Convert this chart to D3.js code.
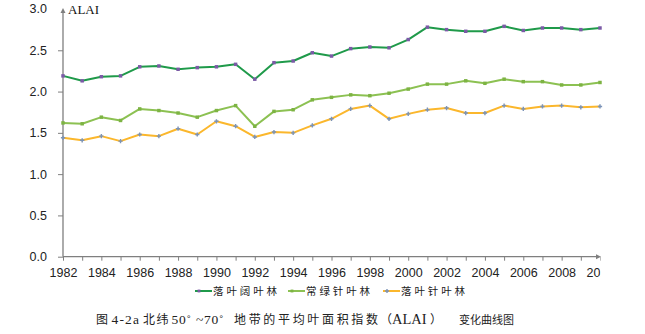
<!DOCTYPE html>
<html><head><meta charset="utf-8">
<script src="https://cdn.jsdelivr.net/npm/d3@7"></script>
<style>
body{margin:0;background:#fff;}
svg{display:block;}
</style></head>
<body>
<svg id="c" width="645" height="334"></svg>
<script>
const years = d3.range(1982, 2011);
const seriesNames = ["落叶阔叶林", "常绿针叶林", "落叶针叶林"];
const broadleaf = [2.19,2.13,2.18,2.19,2.30,2.31,2.27,2.29,2.30,2.33,2.15,2.35,2.37,2.47,2.43,2.52,2.54,2.53,2.63,2.78,2.75,2.73,2.73,2.79,2.74,2.77,2.77,2.75,2.77];
const evergreen = [1.62,1.61,1.69,1.65,1.79,1.77,1.74,1.69,1.77,1.83,1.58,1.76,1.78,1.90,1.93,1.96,1.95,1.98,2.03,2.09,2.09,2.13,2.10,2.15,2.12,2.12,2.08,2.08,2.11];
const deciduousConifer = [1.44,1.41,1.46,1.40,1.48,1.46,1.55,1.48,1.64,1.58,1.45,1.51,1.50,1.59,1.67,1.79,1.83,1.67,1.73,1.78,1.80,1.74,1.74,1.83,1.79,1.82,1.83,1.81,1.82];
const yTicks = [0.0,0.5,1.0,1.5,2.0,2.5,3.0];
const xTicks = d3.range(1982, 2011);
const xLabels = d3.range(1982, 2011, 2);
const yTitle = "ALAI";
const captionParts = ["图", "4-2a", "北纬", "50˚ ~70˚", "地带的平均叶面积指数", "（", "ALAI", "）", "变化曲线图"];

const lineColors = ["#1f9a4a", "#8cc152", "#fbb72c"];
const markerColors = ["#7b5aa6", "#7db343", "#7b93b8"];
const markerShapes = [d3.symbolSquare, d3.symbolSquare, d3.symbolCross];

const svg = d3.select("#c");
const x = d3.scaleLinear().domain([1982, 2010]).range([63, 600]);
const y = d3.scaleLinear().domain([0, 3]).range([256.7, 9]);

svg.append("defs").append("clipPath").attr("id","clipX")
  .append("rect").attr("x",0).attr("y",0).attr("width",600.5).attr("height",334);

const axisColor = "#7f7f7f";

// Y axis
const yAxis = svg.append("g").attr("transform","translate(63,0)")
  .call(d3.axisLeft(y).tickValues(yTicks.slice(0,6)).tickSize(5).tickFormat(d3.format(".1f")).tickSizeOuter(0));
yAxis.select(".domain").remove();
yAxis.selectAll(".tick line").attr("stroke",axisColor);
yAxis.selectAll(".tick text").attr("x",-16).attr("fill","#222")
  .style("font-family","'Liberation Sans', Arial, sans-serif").style("font-size","12.5px");
svg.append("text").attr("x",47).attr("y",y(3)).attr("dy","0.32em").attr("text-anchor","end")
  .attr("fill","#222").style("font-family","'Liberation Sans', Arial, sans-serif").style("font-size","12.5px")
  .text(d3.format(".1f")(yTicks[6]));
svg.append("line").attr("x1",63).attr("x2",63).attr("y1",y(0)).attr("y2",y(3)+2).attr("stroke",axisColor).attr("stroke-width",1.3);
svg.append("path").attr("d",`M${63-2.5},${y(3)+4} L63,${y(3)-1} L${63+2.5},${y(3)+4} Z`).attr("fill",axisColor);
svg.append("text").attr("x",68).attr("y",y(3)).attr("dy","0.35em")
  .style("font-family","'Liberation Serif', 'Times New Roman', serif").style("font-size","13px").attr("fill","#111").text(yTitle);

// X axis
const xAxisG = svg.append("g").attr("clip-path","url(#clipX)");
const xAxis = xAxisG.append("g").attr("transform",`translate(0,${y(0)})`)
  .call(d3.axisBottom(x).tickValues(xTicks).tickSize(4).tickFormat(d => xLabels.includes(d) ? String(d) : "").tickSizeOuter(0));
xAxis.select(".domain").remove();
xAxis.selectAll(".tick line").attr("stroke",axisColor);
xAxis.selectAll(".tick text").attr("y",11).attr("fill","#222")
  .style("font-family","'Liberation Sans', Arial, sans-serif").style("font-size","12.5px");
svg.append("line").attr("x1",63).attr("x2",598).attr("y1",y(0)).attr("y2",y(0)).attr("stroke",axisColor).attr("stroke-width",1.3);
svg.append("path").attr("d",`M596,${y(0)-2.5} L601,${y(0)} L596,${y(0)+2.5} Z`).attr("fill",axisColor);

// Lines
const allSeries = [broadleaf, evergreen, deciduousConifer];
const line = d3.line().x((d,i)=>x(years[i])).y(d=>y(d));
allSeries.forEach((s, k) => {
  svg.append("path").datum(s).attr("d", line).attr("fill","none")
    .attr("stroke", lineColors[k]).attr("stroke-width", 2).attr("stroke-linejoin","round");
  const sym = k===2 ? d3.symbol().type(d3.symbolCross).size(10) : d3.symbol().type(markerShapes[k]).size(12);
  svg.append("g").selectAll("path").data(s).join("path")
    .attr("transform",(d,i)=>`translate(${x(years[i])},${y(d)})`)
    .attr("d", sym())
    .attr("fill", markerColors[k]);
});

// Legend
const legendX = [195, 288, 383];
const lg = svg.append("g");
seriesNames.forEach((n,k) => {
  const lx = legendX[k];
  lg.append("line").attr("x1",lx).attr("x2",lx+17).attr("y1",291).attr("y2",291)
    .attr("stroke",lineColors[k]).attr("stroke-width",2);
  lg.append("path").attr("transform",`translate(${lx+4},291)`)
    .attr("d", d3.symbol().type(markerShapes[k]).size(k===2?10:8)()).attr("fill",markerColors[k]);
  lg.append("text").attr("x",lx+18).attr("y",291).attr("dy","0.35em")
    .attr("textLength",64).attr("lengthAdjust","spacing")
    .style("font-family","'Noto Sans CJK SC', sans-serif").style("font-size","10.5px").attr("fill","#222").text(n);
});

// Caption (segments positioned to match the reference layout)
const capX = [96, 111.5, 143, 171.5, 234, 380, 392, 430, 459];
const capW = [11.5, 27.5, 25.5, 52, 144, null, null, null, null];
const capLatin = [false, true, false, true, false, false, true, false, false];
const capSize = ["12px","13.5px","12px","13.5px","12px","12px","14.5px","12px","11px"];
const cap = svg.append("text").attr("y",318).attr("dy","0.35em").attr("fill","#222");
captionParts.forEach((p,i) => {
  const t = cap.append("tspan").attr("x",capX[i])
    .style("font-family", capLatin[i] ? "'Liberation Serif', serif" : "'Noto Sans CJK SC', sans-serif")
    .style("font-size", capSize[i])
    .text(p);
  if (capW[i]) t.attr("textLength",capW[i]).attr("lengthAdjust","spacing");
});
</script>
</body></html>
